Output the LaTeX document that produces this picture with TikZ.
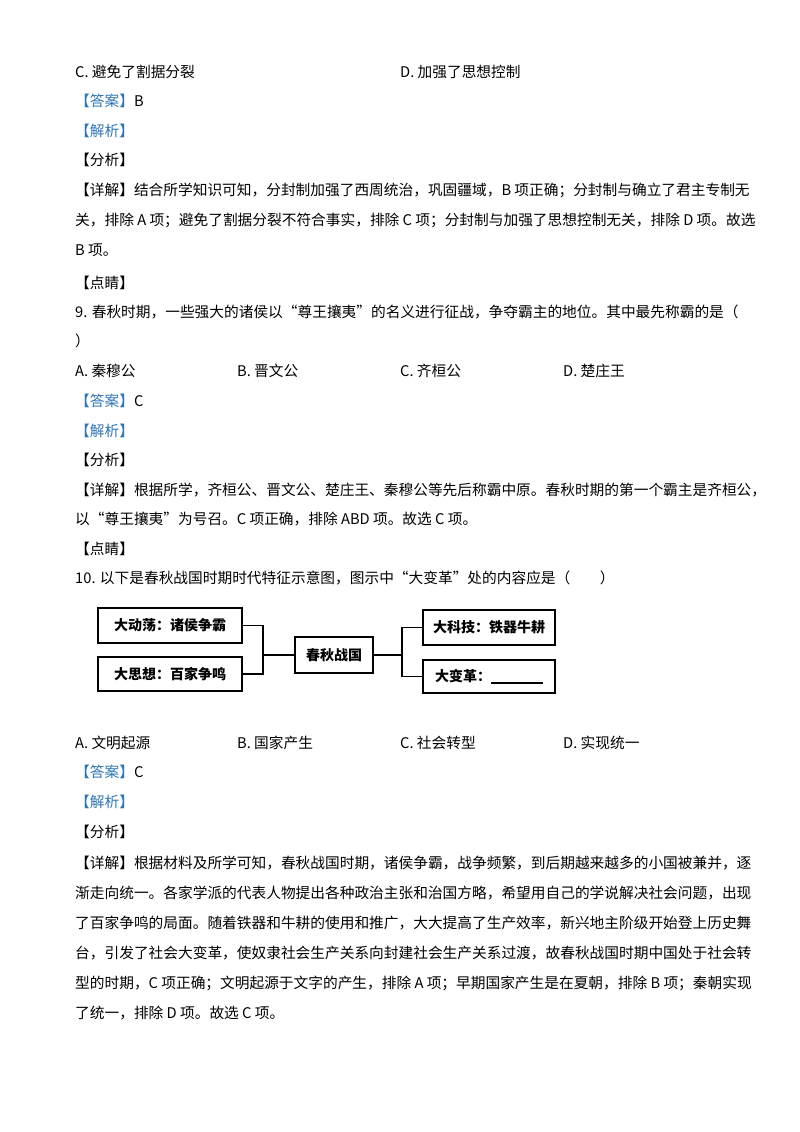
\documentclass[tikz,border=0pt]{standalone}
\usepackage{fontspec}
\setmainfont{Liberation Serif}
\newfontfamily\cjk{Noto Sans CJK SC}
\usetikzlibrary{positioning}
\definecolor{ansblue}{RGB}{46,117,182}
\newcommand{\qline}[3]{\node[txt] (#1) at (75,#2) {#3};}
\newcommand{\tagb}[1]{\textcolor{ansblue}{【#1】}}
\tikzset{
  txt/.style={anchor=west, inner sep=0pt, font=\fontsize{14.7}{16}\cjk},
  box/.style={draw, line width=1.6pt, inner sep=0pt, font=\fontsize{14}{16}\cjk\bfseries},
  link/.style={line width=1.6pt}
}
\begin{document}
\begin{tikzpicture}[x=1pt, y=-1pt]
  \fill[white] (0,0) rectangle (800,1132);
  \useasboundingbox (0,0) rectangle (800,1132);

  % question 8 (end)
  % ----------------
  \qline{l1}{72}{C. 避免了割据分裂}
  \node[txt] (l1d) at (400,72) {D. 加强了思想控制};
  \qline{l2}{101}{\tagb{答案}B}
  \qline{l3}{131}{\tagb{解析}}
  \qline{l4}{160}{【分析】}
  \qline{l5}{190}{【详解】结合所学知识可知，分封制加强了西周统治，巩固疆域，B 项正确；分封制与确立了君主专制无}
  \qline{l6}{220}{关，排除 A 项；避免了割据分裂不符合事实，排除 C 项；分封制与加强了思想控制无关，排除 D 项。故选}
  \qline{l7}{250}{B 项。}
  \qline{l8}{283}{【点睛】}

  % question 9
  % ----------
  \qline{l9}{312}{9. 春秋时期，一些强大的诸侯以“尊王攘夷”的名义进行征战，争夺霸主的地位。其中最先称霸的是（}
  \qline{l10}{341}{）}
  \foreach \x/\t [count=\i] in {75/A. 秦穆公, 237/B. 晋文公, 400/C. 齐桓公, 563/D. 楚庄王}
    \node[txt] (o9\i) at (\x,371) {\t};
  \qline{l11}{401}{\tagb{答案}C}
  \qline{l12}{431}{\tagb{解析}}
  \qline{l13}{460}{【分析】}
  \qline{l14}{490}{【详解】根据所学，齐桓公、晋文公、楚庄王、秦穆公等先后称霸中原。春秋时期的第一个霸主是齐桓公，}
  \qline{l15}{519}{以“尊王攘夷”为号召。C 项正确，排除 ABD 项。故选 C 项。}
  \qline{l16}{549}{【点睛】}

  % question 10
  % -----------
  \qline{l17}{578}{10. 以下是春秋战国时期时代特征示意图，图示中“大变革”处的内容应是（\quad\quad）}

  \node[box, minimum width=144, minimum height=35] (dong) at (170,625.5) {大动荡：诸侯争霸\hspace{4pt}};
  \node[box, minimum width=144, minimum height=34] (sixiang) at (170,674) {大思想：百家争鸣\hspace{4pt}};
  \node[box, minimum width=78, minimum height=36] (chunqiu) at (334,655) {春秋战国};
  \node[box, minimum width=132, minimum height=35] (keji) at (489,627.5) {大科技：铁器牛耕};
  \node[box, minimum width=132, minimum height=33] (biange) at (489,676.5) {大变革：\rule[-2pt]{52pt}{1.4pt}\hspace{4pt}};

  \coordinate (lb) at (263,655);
  \coordinate (rb) at (402,655);
  \draw[link] (dong.east) -| (lb) |- (sixiang.east);
  \draw[link] (lb) -- (chunqiu.west);
  \draw[link] (chunqiu.east) -- (rb);
  \draw[link] (keji.west) -| (rb) |- (biange.west);

  \foreach \x/\t [count=\i] in {75/A. 文明起源, 237/B. 国家产生, 400/C. 社会转型, 563/D. 实现统一}
    \node[txt] (o10\i) at (\x,743) {\t};
  \qline{l18}{772}{\tagb{答案}C}
  \qline{l19}{802}{\tagb{解析}}
  \qline{l20}{832}{【分析】}
  \qline{l21}{863}{【详解】根据材料及所学可知，春秋战国时期，诸侯争霸，战争频繁，到后期越来越多的小国被兼并，逐}
  \qline{l22}{893}{渐走向统一。各家学派的代表人物提出各种政治主张和治国方略，希望用自己的学说解决社会问题，出现}
  \qline{l23}{923}{了百家争鸣的局面。随着铁器和牛耕的使用和推广，大大提高了生产效率，新兴地主阶级开始登上历史舞}
  \qline{l24}{953}{台，引发了社会大变革，使奴隶社会生产关系向封建社会生产关系过渡，故春秋战国时期中国处于社会转}
  \qline{l25}{983}{型的时期，C 项正确；文明起源于文字的产生，排除 A 项；早期国家产生是在夏朝，排除 B 项；秦朝实现}
  \qline{l26}{1013}{了统一，排除 D 项。故选 C 项。}
\end{tikzpicture}
\end{document}
